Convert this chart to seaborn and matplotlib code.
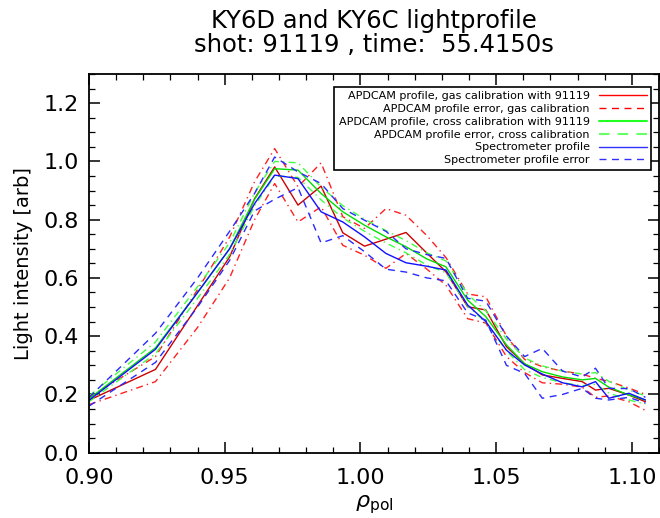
import matplotlib
matplotlib.use("Agg")
import matplotlib.pyplot as plt
from matplotlib.lines import Line2D
from matplotlib.ticker import MultipleLocator, FormatStrFormatter
import seaborn as sns

# ---------------- data ----------------
rho = [0.900, 0.9245, 0.9400, 0.9518, 0.9610, 0.9684, 0.9770, 0.9855, 0.9935,
       1.0015, 1.0094, 1.0168, 1.0245, 1.0315, 1.0395, 1.0462, 1.0538, 1.0605,
       1.0670, 1.0745, 1.0817, 1.0866, 1.0915, 1.0989, 1.1050]

gas_prof = [0.180, 0.286, 0.505, 0.672, 0.872, 0.981, 0.850, 0.915, 0.755,
            0.709, 0.733, 0.756, 0.685, 0.621, 0.501, 0.490, 0.364, 0.305,
            0.267, 0.255, 0.244, 0.215, 0.221, 0.198, 0.175]
gas_hi = [0.190, 0.330, 0.560, 0.740, 0.930, 1.044, 0.913, 0.995, 0.810,
          0.770, 0.838, 0.815, 0.745, 0.670, 0.545, 0.535, 0.400, 0.320,
          0.295, 0.280, 0.270, 0.255, 0.245, 0.222, 0.200]
gas_lo = [0.165, 0.244, 0.430, 0.600, 0.800, 0.924, 0.792, 0.844, 0.712,
          0.678, 0.633, 0.684, 0.630, 0.575, 0.460, 0.445, 0.330, 0.275,
          0.240, 0.235, 0.225, 0.190, 0.195, 0.175, 0.145]

cross_prof = [0.185, 0.360, 0.550, 0.700, 0.870, 0.975, 0.970, 0.890, 0.827,
              0.781, 0.741, 0.707, 0.665, 0.638, 0.524, 0.467, 0.370, 0.305,
              0.278, 0.260, 0.250, 0.255, 0.225, 0.198, 0.181]
cross_hi = [0.195, 0.380, 0.570, 0.720, 0.892, 1.000, 0.995, 0.912, 0.848,
            0.802, 0.762, 0.728, 0.686, 0.658, 0.544, 0.487, 0.390, 0.325,
            0.298, 0.280, 0.270, 0.275, 0.245, 0.215, 0.195]
cross_lo = [0.175, 0.340, 0.530, 0.680, 0.848, 0.950, 0.945, 0.868, 0.806,
            0.760, 0.720, 0.686, 0.644, 0.618, 0.504, 0.447, 0.350, 0.285,
            0.258, 0.240, 0.230, 0.235, 0.205, 0.181, 0.167]

spec_prof = [0.180, 0.355, 0.550, 0.700, 0.855, 0.953, 0.941, 0.827, 0.792,
             0.741, 0.684, 0.652, 0.640, 0.627, 0.507, 0.450, 0.352, 0.301,
             0.270, 0.240, 0.226, 0.244, 0.187, 0.204, 0.181]
spec_hi = [0.190, 0.410, 0.600, 0.760, 0.890, 1.015, 0.964, 0.924, 0.838,
           0.798, 0.760, 0.700, 0.680, 0.667, 0.530, 0.520, 0.400, 0.330,
           0.358, 0.280, 0.260, 0.290, 0.221, 0.220, 0.190]
spec_lo = [0.160, 0.310, 0.500, 0.660, 0.830, 0.870, 0.910, 0.720, 0.745,
           0.690, 0.630, 0.620, 0.600, 0.590, 0.480, 0.455, 0.300, 0.272,
           0.187, 0.200, 0.221, 0.187, 0.181, 0.190, 0.170]

legend_labels = ["APDCAM profile, gas calibration with 91119",
                 "APDCAM profile error, gas calibration",
                 "APDCAM profile, cross calibration with 91119",
                 "APDCAM profile error, cross calibration",
                 "Spectrometer profile",
                 "Spectrometer profile error"]
title_text = "KY6D and KY6C lightprofile\nshot: 91119 , time:  55.4150s"
x_label = r"$\rho_{\rm pol}$"
y_label = "Light intensity [arb]"

# ---------------- style ----------------
sns.set_theme(style="ticks")
plt.rcParams["font.family"] = ["DejaVu Sans"]
plt.rcParams["text.color"] = "black"
plt.rcParams["axes.labelcolor"] = "black"
plt.rcParams["xtick.color"] = "black"
plt.rcParams["ytick.color"] = "black"

fig = plt.figure(figsize=(6.6, 5.18), dpi=100)
ax = fig.add_axes([89 / 660, 1 - 452.7 / 518, (659 - 89) / 660, (452.7 - 74) / 518])

RED_D = "#cc0000"
RED = "#ff2020"
GREEN = "#00dd00"
GREEN_L = "#40ff40"
BLUE = "#1010ff"
BLUE_L = "#2a2aff"
dashdot = (0, (5, 3, 1, 3))
dashed = (0, (5, 4))

series = [
    (gas_prof, RED_D, "-"), (gas_hi, RED, dashdot), (gas_lo, RED, dashdot),
    (cross_prof, GREEN, "-"), (cross_hi, GREEN_L, dashdot), (cross_lo, GREEN_L, dashdot),
    (spec_prof, BLUE, "-"), (spec_hi, BLUE_L, dashed), (spec_lo, BLUE_L, dashed),
]
for yvals, col, ls in series:
    sns.lineplot(x=rho, y=yvals, ax=ax, color=col, linestyle=ls, linewidth=1.0,
                 estimator=None, sort=False, legend=False)

ax.set_xlim(0.90, 1.11)
ax.set_ylim(0.0, 1.3)
ax.xaxis.set_major_locator(MultipleLocator(0.05))
ax.xaxis.set_minor_locator(MultipleLocator(0.01))
ax.yaxis.set_major_locator(MultipleLocator(0.2))
ax.yaxis.set_minor_locator(MultipleLocator(0.05))
ax.xaxis.set_major_formatter(FormatStrFormatter("%.2f"))
ax.yaxis.set_major_formatter(FormatStrFormatter("%.1f"))
ax.tick_params(which="both", direction="in", top=True, right=True, colors="black")
ax.tick_params(which="major", length=8, width=1.1, labelsize=16)
ax.tick_params(axis="x", which="major", pad=11)
ax.tick_params(axis="y", which="major", pad=7)
ax.tick_params(which="minor", length=4, width=0.9)
for sp in ax.spines.values():
    sp.set_linewidth(1.3)
    sp.set_color("black")

ax.set_xlabel(x_label, fontsize=16, labelpad=4)
ax.set_ylabel(y_label, fontsize=14, labelpad=8)
ax.set_title(title_text, fontsize=17.5, pad=16, linespacing=1.0, color="black")

handles = [
    Line2D([], [], color="#ff0000", lw=1.0, ls="-"),
    Line2D([], [], color="#ff0000", lw=1.0, ls=dashed),
    Line2D([], [], color="#22ff22", lw=1.5, ls="-"),
    Line2D([], [], color="#66ff66", lw=1.5, ls=dashed),
    Line2D([], [], color="#3030ff", lw=1.0, ls="-"),
    Line2D([], [], color="#3030ff", lw=1.0, ls=dashed),
]
leg = ax.legend(handles, legend_labels, loc="upper right",
                bbox_to_anchor=(0.986, 0.966), borderaxespad=0,
                markerfirst=False, fontsize=8, frameon=True, fancybox=False,
                edgecolor="black", framealpha=1, handlelength=4.3,
                handletextpad=0.8, labelspacing=0.25, borderpad=0.4)
leg.get_frame().set_linewidth(1.2)
for t in leg.get_texts():
    t.set_color("black")

fig.savefig("out.png", dpi=100)
